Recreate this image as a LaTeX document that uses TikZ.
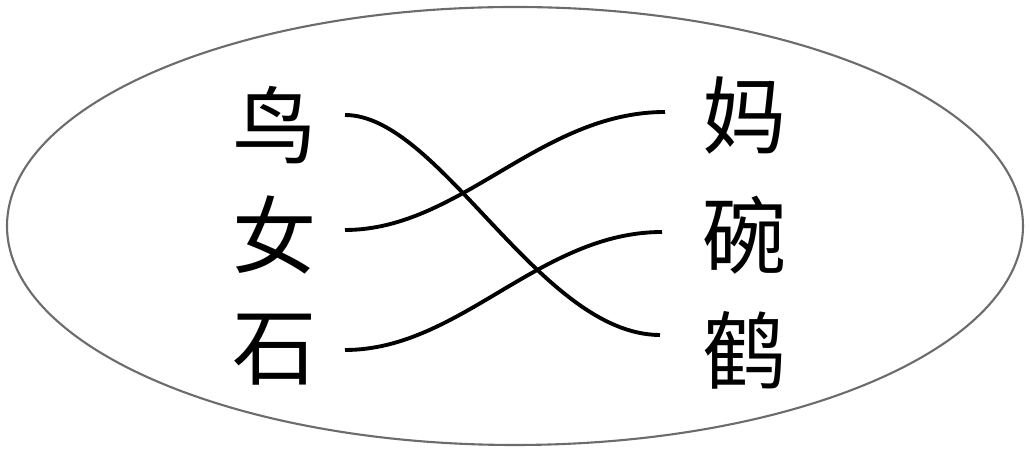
\documentclass[tikz,border=0pt]{standalone}
\usepackage{fontspec}
\newfontfamily\cjk{Noto Sans CJK SC}
\begin{document}
\begin{tikzpicture}[x=0.02cm,y=0.02cm,
  ch/.style={font=\cjk\fontsize{48}{56}\selectfont, inner sep=0pt},
  link/.style={line width=2.2pt, black}]
\useasboundingbox (0,0) rectangle (1029,452);
\draw[gray!85!black, line width=1.2pt] (515,226) ellipse [x radius=508, y radius=219];
\node[ch] (niao) at (275,327) {鸟};
\node[ch] (nv)   at (275,217) {女};
\node[ch] (shi)  at (275,102) {石};
\node[ch] (ma)   at (745,337) {妈};
\node[ch] (wan)  at (745,217) {碗};
\node[ch] (he)   at (745,102) {鹤};
\coordinate (a1) at (345,337);
\coordinate (a2) at (345,222);
\coordinate (a3) at (345,102);
\coordinate (b1) at (665,340);
\coordinate (b2) at (662,220);
\coordinate (b3) at (660,117);
\draw[link] (a1) .. controls (440,337) and (540,117) .. (b3);
\draw[link] (a2) .. controls (460,222) and (540,340) .. (b1);
\draw[link] (a3) .. controls (460,102) and (540,220) .. (b2);
\end{tikzpicture}
\end{document}
